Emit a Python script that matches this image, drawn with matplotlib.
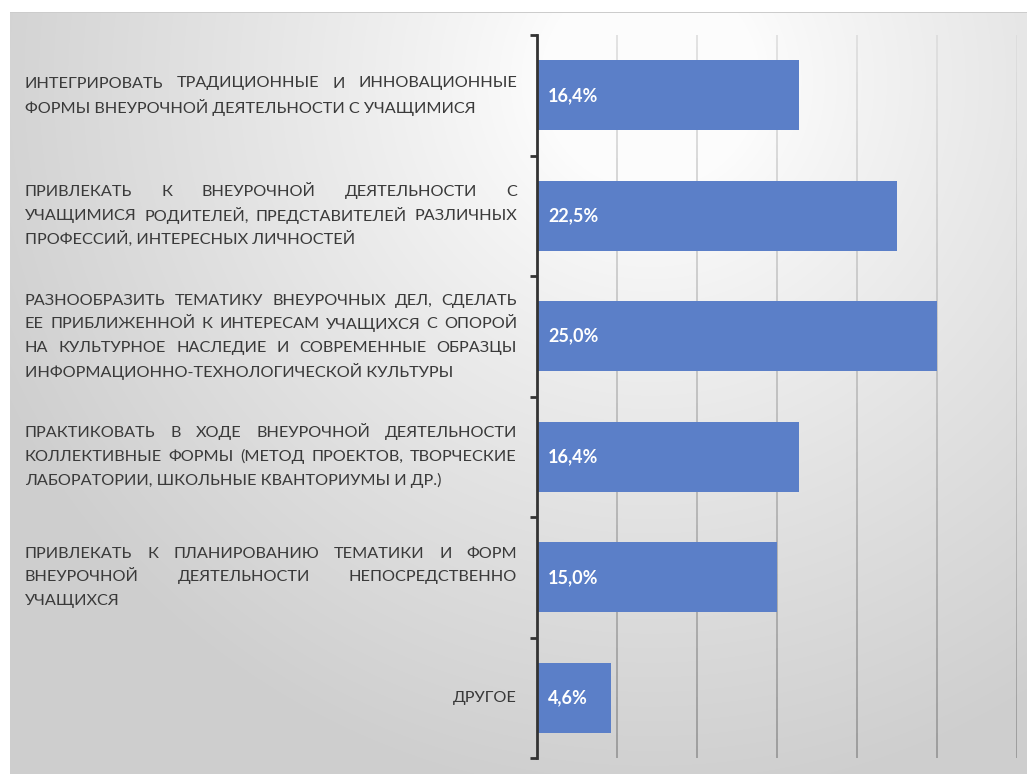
import numpy as np
import matplotlib
matplotlib.use("Agg")
import matplotlib.pyplot as plt
from matplotlib.collections import LineCollection
from matplotlib.font_manager import FontProperties
from matplotlib.transforms import IdentityTransform

# ---------------- data ----------------
categories = [
    "ИНТЕГРИРОВАТЬ ТРАДИЦИОННЫЕ И ИННОВАЦИОННЫЕ\nФОРМЫ ВНЕУРОЧНОЙ ДЕЯТЕЛЬНОСТИ С УЧАЩИМИСЯ",
    "ПРИВЛЕКАТЬ К ВНЕУРОЧНОЙ ДЕЯТЕЛЬНОСТИ С\nУЧАЩИМИСЯ РОДИТЕЛЕЙ, ПРЕДСТАВИТЕЛЕЙ РАЗЛИЧНЫХ\nПРОФЕССИЙ, ИНТЕРЕСНЫХ ЛИЧНОСТЕЙ",
    "РАЗНООБРАЗИТЬ ТЕМАТИКУ ВНЕУРОЧНЫХ ДЕЛ, СДЕЛАТЬ\nЕЕ ПРИБЛИЖЕННОЙ К ИНТЕРЕСАМ УЧАЩИХСЯ С ОПОРОЙ\nНА КУЛЬТУРНОЕ НАСЛЕДИЕ И СОВРЕМЕННЫЕ ОБРАЗЦЫ\nИНФОРМАЦИОННО-ТЕХНОЛОГИЧЕСКОЙ КУЛЬТУРЫ",
    "ПРАКТИКОВАТЬ В ХОДЕ ВНЕУРОЧНОЙ ДЕЯТЕЛЬНОСТИ\nКОЛЛЕКТИВНЫЕ ФОРМЫ (МЕТОД ПРОЕКТОВ, ТВОРЧЕСКИЕ\nЛАБОРАТОРИИ, ШКОЛЬНЫЕ КВАНТОРИУМЫ И ДР.)",
    "ПРИВЛЕКАТЬ К ПЛАНИРОВАНИЮ ТЕМАТИКИ И ФОРМ\nВНЕУРОЧНОЙ ДЕЯТЕЛЬНОСТИ НЕПОСРЕДСТВЕННО\nУЧАЩИХСЯ",
    "ДРУГОЕ",
]
values = [16.4, 22.5, 25.0, 16.4, 15.0, 4.6]
value_labels = ["16,4%", "22,5%", "25,0%", "16,4%", "15,0%", "4,6%"]
grid_ticks = [5, 10, 15, 20, 25, 30]

# ---------------- figure ----------------
W, H = 1027, 774
fig = plt.figure(figsize=(W / 100, H / 100), dpi=100)

# background gradient panel
bg = fig.add_axes([0, 0, 1, 1], zorder=-10)
yy, xx = np.mgrid[0:H, 0:W]
d = np.sqrt((xx - 650.0) ** 2 + (yy - 80.0) ** 2)
v = 252 - 46 * np.clip((d - 110) / 620, 0, 1) ** 0.9
img = np.dstack([v, v, v]) / 255.0
img[:12, :, :] = 1.0
img[:, :10, :] = 1.0
img[12, 10:, :] = 0.80
bg.imshow(img, aspect="auto", interpolation="bilinear")
bg.set_axis_off()

# main axes
left, right = 537 / W, 1017 / W
top, bottom = 35 / H, 758 / H
ax = fig.add_axes([left, 1 - bottom, right - left, bottom - top])
ax.set_facecolor("none")
n = len(categories)
ypos = np.arange(n)
ax.set_xlim(0, 30)
ax.set_ylim(n - 0.5, -0.5)

# gradient gridlines
segs, cols = [], []
ys = np.linspace(-0.5, n - 0.5, 60)
for g in grid_ticks:
    for k in range(len(ys) - 1):
        segs.append([(g, ys[k]), (g, ys[k + 1])])
        t = (ys[k] + 0.5) / n
        c = 0.86 - 0.30 * t
        cols.append((c, c, c))
ax.add_collection(LineCollection(segs, colors=cols, linewidths=1.1, zorder=1))

ax.barh(ypos, values, height=0.58, color="#5b7fc8", zorder=2)

lab_fp = FontProperties(family="Lato", weight="bold", size=13)
for y, lab in zip(ypos, value_labels):
    ax.annotate(lab, xy=(0, y), xytext=(8.0, 0), textcoords="offset points",
                ha="left", va="center", color="white", fontproperties=lab_fp, zorder=3)

for s in ["top", "right", "bottom"]:
    ax.spines[s].set_visible(False)
ax.spines["left"].set_color("#333333")
ax.spines["left"].set_linewidth(2.0)
ax.set_xticks([])
ax.set_yticks(np.arange(-0.5, n, 1.0))
ax.set_yticklabels([])
ax.tick_params(axis="y", length=5, width=2.0, color="#333333", direction="out")

# justified category labels
fp = FontProperties(family="Lato", size=11.7)
renderer = fig.canvas.get_renderer()
x0, x1 = 25.0, 517.0
line_h = 23.5
txt_color = "#3a3a3a"


def wpx(s):
    w, _, _ = renderer.get_text_width_height_descent(s, fp, ismath=False)
    return w


for i, cat in enumerate(categories):
    lines = cat.split("\n")
    yc = ax.transData.transform((0, i))[1]
    nl = len(lines)
    for k, line in enumerate(lines):
        yl = yc + ((nl - 1) / 2 - k) * line_h
        if nl == 1:
            fig.text(x1, yl, line, transform=IdentityTransform(), ha="right",
                     va="center", fontproperties=fp, color=txt_color)
        elif k == nl - 1:
            fig.text(x0, yl, line, transform=IdentityTransform(), ha="left",
                     va="center", fontproperties=fp, color=txt_color)
        else:
            words = line.split(" ")
            widths = [wpx(wd) for wd in words]
            gap = (x1 - x0 - sum(widths)) / (len(words) - 1)
            x = x0
            for wd, w in zip(words, widths):
                fig.text(x, yl, wd, transform=IdentityTransform(), ha="left",
                         va="center", fontproperties=fp, color=txt_color)
                x += w + gap

fig.savefig("out.png", dpi=100)
